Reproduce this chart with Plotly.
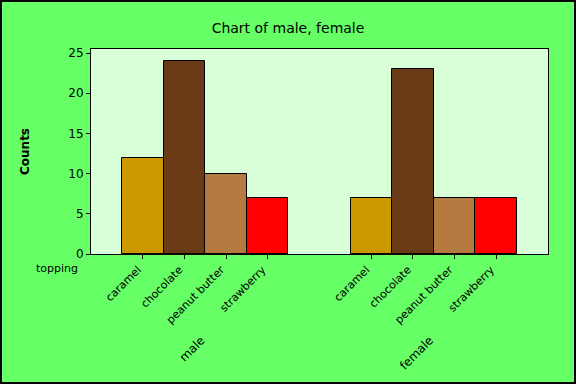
import plotly.graph_objects as go

toppings = ["caramel", "chocolate", "peanut butter", "strawberry"]
groups = ["male", "female"]
male_counts = [12, 24, 10, 7]
female_counts = [7, 23, 7, 7]
bar_colors = ["#CC9900", "#6B3A16", "#B57A40", "#FF0000"]

group_values = [male_counts, female_counts]
group_step = len(toppings) + 1.5

fig = go.Figure()
xs, ys, cols, texts = [], [], [], []
for g, vals in enumerate(group_values):
    for i, v in enumerate(vals):
        xs.append(g * group_step + i)
        ys.append(v)
        cols.append(bar_colors[i])
        texts.append(toppings[i])

group_centers = [g * group_step + (len(toppings) - 1) / 2 for g in range(len(groups))]

fig.add_trace(go.Bar(
    x=xs, y=ys, width=1.0,
    marker=dict(color=cols, line=dict(color="black", width=1)),
    hovertext=texts, showlegend=False,
))
# invisible carrier trace for the group-label axis
fig.add_trace(go.Scatter(
    x=group_centers, y=[0] * len(groups), xaxis="x2", mode="markers",
    marker=dict(opacity=0), showlegend=False, hoverinfo="skip",
))

font = "DejaVu Sans"
W, H = 576, 384
ml, mr, mt, mb = 91, 28, 49, 130
pw, ph = W - ml - mr, H - mt - mb
xrange_ = [-1.25, 9.75]


def py(p):
    return (mt + ph - p) / ph


def px(p):
    return (p - ml) / pw


fig.update_layout(
    width=W, height=H,
    margin=dict(l=ml, r=mr, t=mt, b=mb, autoexpand=False),
    paper_bgcolor="#66FF66",
    plot_bgcolor="#D9FFD9",
    font=dict(family=font, size=11, color="black"),
    title=dict(text="Chart of male, female", x=0.5, xanchor="center",
               xref="container", y=1 - 28 / H, yanchor="middle",
               font=dict(family=font, size=14, color="black")),
    bargap=0,
    xaxis=dict(
        range=xrange_, automargin=False,
        tickmode="array", tickvals=xs, ticktext=texts,
        tickangle=-45, ticks="outside", ticklen=4, tickcolor="black",
        ticklabelshift=-5,
        showline=True, linecolor="black", linewidth=1, mirror=True,
        showgrid=False, zeroline=False,
        tickfont=dict(family=font, size=11),
    ),
    xaxis2=dict(
        range=xrange_, overlaying="x", side="bottom", anchor="y",
        automargin=False,
        tickmode="array", tickvals=group_centers, ticktext=groups,
        tickangle=-45, ticks="", ticklabelstandoff=76, ticklabelshift=-4,
        showline=False, showgrid=False, zeroline=False,
        tickfont=dict(family=font, size=12),
    ),
    yaxis=dict(
        range=[0, 25.5], automargin=False,
        tickvals=[0, 5, 10, 15, 20, 25],
        ticks="outside", ticklen=4, tickcolor="black",
        showline=True, linecolor="black", linewidth=1, mirror=True,
        showgrid=False, zeroline=False,
        tickfont=dict(family=font, size=12),
    ),
)

# y axis title
fig.add_annotation(
    x=px(25), xref="paper", y=py(152), yref="paper",
    xanchor="center", yanchor="middle",
    text="<b>Counts</b>", textangle=-90, showarrow=False,
    font=dict(family=font, size=12),
)

# "topping" label
fig.add_annotation(
    x=px(57), xref="paper", y=py(268), yref="paper",
    xanchor="center", yanchor="middle",
    text="topping", showarrow=False, font=dict(family=font, size=11),
)

# outer border
fig.add_shape(
    type="rect", xref="paper", yref="paper",
    x0=px(1), x1=px(W - 1), y0=py(H - 1), y1=py(1),
    line=dict(color="black", width=2), fillcolor="rgba(0,0,0,0)",
)

fig.write_html(
    "out.html",
    config={"displayModeBar": False},
    post_script="document.body.style.margin='0';document.body.style.padding='0';document.body.style.overflow='hidden';",
)
